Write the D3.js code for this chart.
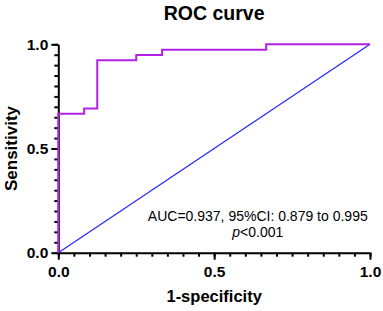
<!DOCTYPE html>
<html>
<head>
<meta charset="utf-8">
<script src="https://cdn.jsdelivr.net/npm/d3@7"></script>
<style>
  body { margin: 0; background: #fff; }
  svg { display: block; font-family: "Liberation Sans", Arial, sans-serif; }
</style>
</head>
<body>
<svg id="roc" width="383" height="311"></svg>
<script>
// ROC steps (1-specificity, sensitivity)
var fpr = [0, 0, 0.083, 0.083, 0.125, 0.125, 0.25, 0.25, 0.333, 0.333, 0.667, 0.667, 1];
var tpr = [0, 0.667, 0.667, 0.692, 0.692, 0.923, 0.923, 0.949, 0.949, 0.974, 0.974, 1, 1];
var majorTicks = [0, 0.5, 1];
var minorTicks = d3.range(0, 21).map(function(i) { return i / 20; });

var svg = d3.select("svg#roc"),
    margin = {left: 58.3, right: 13, top: 44.3, bottom: 58.3},
    width = +svg.attr("width") - margin.left - margin.right,
    height = +svg.attr("height") - margin.top - margin.bottom;

var x = d3.scaleLinear().domain([0, 1]).range([0, width]);
var y = d3.scaleLinear().domain([0, 1]).range([height, 0]);

var g = svg.append("g")
    .attr("transform", "translate(" + margin.left + "," + margin.top + ")");

// title
svg.append("text")
    .attr("x", margin.left + width / 2)
    .attr("y", 20)
    .attr("text-anchor", "middle")
    .attr("font-size", "19.5px")
    .attr("font-weight", "bold")
    .text("ROC curve");

// minor ticks
g.append("g")
    .attr("transform", "translate(0," + height + ")")
    .call(d3.axisBottom(x).tickValues(minorTicks).tickSize(4).tickFormat(""))
    .call(function(a) { a.select(".domain").remove(); a.selectAll("line").attr("stroke-width", 2); });

g.append("g")
    .call(d3.axisLeft(y).tickValues(minorTicks).tickSize(4).tickFormat(""))
    .call(function(a) { a.select(".domain").remove(); a.selectAll("line").attr("stroke-width", 2); });

// major axes
var xAxis = g.append("g")
    .attr("transform", "translate(0," + height + ")")
    .call(d3.axisBottom(x).tickValues(majorTicks).tickSize(7).tickSizeOuter(0).tickPadding(6).tickFormat(d3.format(".1f")));

var yAxis = g.append("g")
    .call(d3.axisLeft(y).tickValues(majorTicks).tickSize(7).tickSizeOuter(0).tickPadding(3).tickFormat(d3.format(".1f")));

[xAxis, yAxis].forEach(function(a) {
  a.select(".domain").attr("stroke-width", 2);
  a.selectAll("line").attr("stroke-width", 2);
  a.selectAll("text")
    .attr("font-size", "15.5px")
    .attr("font-weight", "bold")
    .attr("font-family", "Liberation Sans, Arial, sans-serif")
    .attr("fill", "#000");
});

// diagonal reference
g.append("line")
    .attr("x1", x(0)).attr("y1", y(0))
    .attr("x2", x(1)).attr("y2", y(1))
    .attr("stroke", "#2424ff")
    .attr("stroke-width", 1.2);

// ROC curve
var line = d3.line()
    .x(function(d) { return x(d[0]); })
    .y(function(d) { return y(d[1]); });

g.append("path")
    .datum(d3.zip(fpr, tpr))
    .attr("d", line)
    .attr("fill", "none")
    .attr("stroke", "#b420e8")
    .attr("stroke-width", 2);

// annotation
var note = g.append("text")
    .attr("x", x(0.64))
    .attr("y", y(0.153))
    .attr("text-anchor", "middle")
    .attr("font-size", "14px");
note.append("tspan").text("AUC=0.937, 95%CI: 0.879 to 0.995");
var pLine = note.append("tspan")
    .attr("x", x(0.64))
    .attr("dy", 16);
pLine.append("tspan").attr("font-style", "italic").text("p");
pLine.append("tspan").text("<0.001");

// axis titles
svg.append("text")
    .attr("x", margin.left + width / 2)
    .attr("y", 302)
    .attr("text-anchor", "middle")
    .attr("font-size", "16.5px")
    .attr("font-weight", "bold")
    .text("1-specificity");

svg.append("text")
    .attr("transform", "translate(17," + (margin.top + height / 2) + ") rotate(-90)")
    .attr("text-anchor", "middle")
    .attr("font-size", "17px")
    .attr("font-weight", "bold")
    .text("Sensitivity");
</script>
</body>
</html>
